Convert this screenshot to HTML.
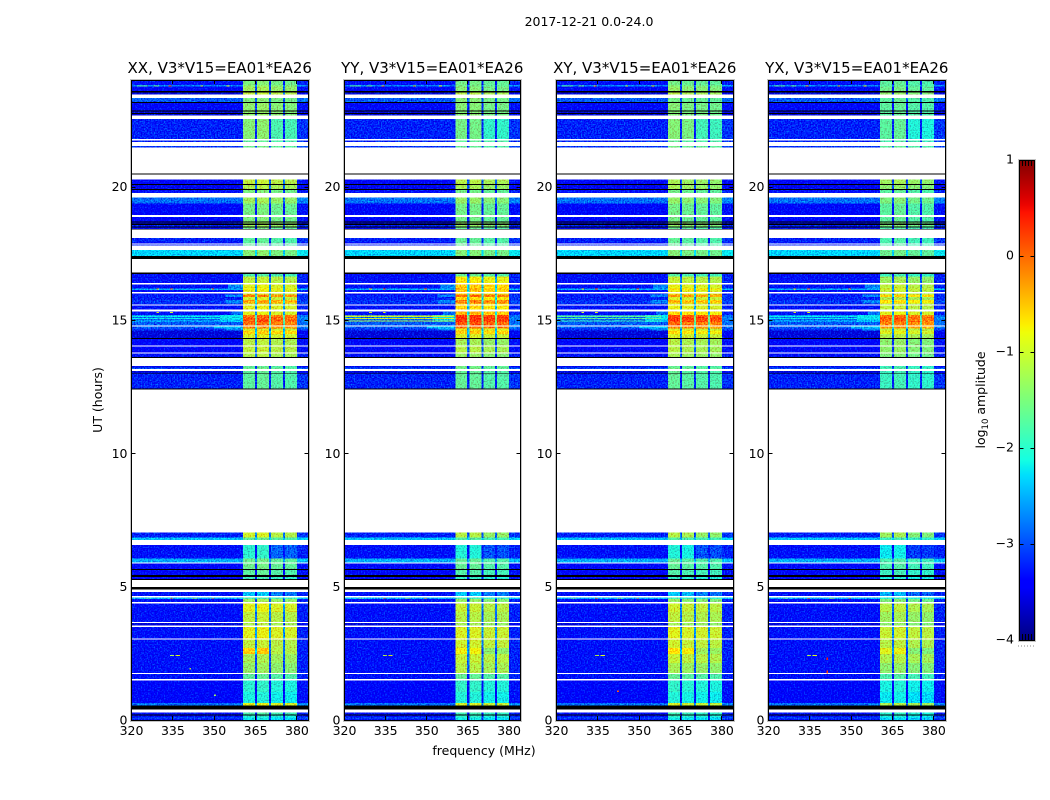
<!DOCTYPE html>
<html>
<head>
<meta charset="utf-8">
<title>2017-12-21 0.0-24.0</title>
<style>
html,body{margin:0;padding:0;background:#fff;width:1050px;height:800px;overflow:hidden}
svg{display:block}
text{font-family:"DejaVu Sans","Liberation Sans",sans-serif;fill:#000}
</style>
</head>
<body>
<svg id="figure" xmlns="http://www.w3.org/2000/svg" width="1050" height="800" viewBox="0 0 1050 800">
  <defs>
    <filter id="speckle" x="0" y="0" width="100%" height="100%" color-interpolation-filters="sRGB">
      <feTurbulence type="fractalNoise" baseFrequency="0.7" numOctaves="1" seed="4" result="t"/>
      <feColorMatrix in="t" type="matrix" values="0 0 0 0 0.523  1 0 0 0 0  0.4 0 0 0 0.323  0 0 0 0 1" result="n"/>
      <feComposite in="SourceGraphic" in2="n" operator="arithmetic" k1="0" k2="1" k3="1.3" k4="-0.68" result="m"/>
      <feComposite in="m" in2="SourceGraphic" operator="in"/>
    </filter>
    <linearGradient id="jet-gradient" x1="0" y1="1" x2="0" y2="0"></linearGradient>
  </defs>
  <text x="589" y="26" font-size="12.5" text-anchor="middle">2017-12-21 0.0-24.0</text>
  <g id="panels"></g>
  <text x="0" y="0" font-size="12.5" text-anchor="middle" transform="translate(102,400) rotate(-90)">UT (hours)</text>
  <text x="484" y="755" font-size="12.5" text-anchor="middle">frequency (MHz)</text>
  <g id="colorbar"></g>
  <text x="0" y="0" font-size="12.5" text-anchor="middle" transform="translate(985,400) rotate(-90)">log<tspan font-size="8.5" dy="3">10</tspan><tspan dy="-3"> amplitude</tspan></text>
</svg>
<script>
// ---------- chart data ----------
const panelTitles = ["XX, V3*V15=EA01*EA26","YY, V3*V15=EA01*EA26","XY, V3*V15=EA01*EA26","YX, V3*V15=EA01*EA26"];
const freqTicks = [320,335,350,365,380];
const hourTicks = [0,5,10,15,20];
const cbarTicks = [1,0,-1,-2,-3,-4];

// channel edges in MHz: background, sub-band, gap, sub-band, gap, sub-band, gap, sub-band, upper edge
const channelEdgesMHz = [320,360.5,364.7,365.5,369.9,370.6,374.9,375.7,380,384];

// top of each time block (hours); the block runs to the next entry
const rowTopHour = [
24.00,23.81,23.75,23.58,23.54,23.46,23.33,23.18,23.14,22.86,22.82,22.76,22.72,22.66,22.53,21.79,21.74,21.67,21.52,21.46,
20.49,20.46,20.27,20.10,20.06,19.91,19.87,19.77,19.60,19.37,18.94,18.86,18.70,18.66,18.61,18.57,18.50,18.46,18.42,18.39,
18.08,17.93,17.86,17.83,17.79,17.62,17.40,17.28,16.78,16.73,16.64,16.38,16.34,16.19,16.13,16.05,16.00,15.95,15.87,15.75,
15.62,15.58,15.55,15.40,15.32,15.19,15.12,15.02,14.92,14.80,14.76,14.68,14.60,14.47,14.32,14.28,14.05,14.01,13.78,13.74,
13.61,13.57,13.27,13.21,13.16,13.08,13.01,12.99,12.43,12.40,7.04,6.85,6.75,6.56,6.06,5.91,5.86,5.66,5.62,5.44,
5.37,5.28,5.25,4.99,4.89,4.80,4.65,4.59,4.54,4.42,4.36,4.05,3.67,3.64,3.54,3.49,3.05,3.01,2.70,2.47,
2.14,1.76,1.72,1.54,1.49,1.05,0.63,0.54,0.40,0.29,0.21,0.16,0.10,0.05];

// log10 amplitude in 320-360 MHz; null = flagged (white), -9 = below range (black)
const rowBackground = [
-3.3,-2.7,-3.4,-9,-3.6,null,-2.9,-9,-3.4,-9,-3.6,-9,-3.6,null,-3.2,null,-3.2,null,-3.1,null,
-9,null,-3.4,-9,-3.5,-9,-3.3,null,-2.8,-3.4,null,-3.4,-9,-3.4,-9,-3.2,-9,-3.4,-9,null,
-3.2,-3.3,null,-3.2,null,-2.3,-9,null,-9,-3.3,-3.3,null,-3.3,-2.5,-3.3,null,-3.3,-3.2,-3.2,-3.1,
-3.2,null,-3.3,null,-3.3,-2.9,-2.8,-2.9,-2.9,null,-2.9,-3.1,-3.6,-3.6,-9,-3.4,null,-3.4,null,-3.3,
-9,null,-3.5,-3.0,null,-3.6,-9,-3.2,-9,null,-3.2,-2.4,null,-3.3,-2.5,null,-3.4,-9,-3.4,-9,
-3.4,-9,null,-9,null,-3.3,null,-2.5,-3.3,null,-3.3,-3.3,null,-3.6,null,-3.3,null,-3.3,-3.3,-3.3,
-3.3,null,-3.3,null,-3.4,-3.4,-2.8,-9,null,-3.3,-9,-3.3,-2.9,-3.3];

// sub-band amplitude per unflagged block, one array per correlation
const bandXX = [
-1.5,-1.4,-1.3,-1.1,-1.5,-1.4,-1.4,-1.4,-1.45,-1.7,
-1.6,-1.1,-1.2,-1.5,-1.3,-1.55,-1.5,-1.3,-1.3,-1.6,
-1.7,-1.7,-1.7,-1.45,-1.8,-1.1,-0.9,-0.8,-0.9,-1.0,
-0.2,-1.0,-0.4,-1.0,-0.9,-0.9,-0.1,0.0,0.05,-0.1,
-0.2,-1.0,-0.6,-0.95,-1.15,-1.1,-1.2,-1.7,-1.6,-1.7,
-1.7,-1.0,-1.7,-2.0,-1.6,-1.6,-1.7,-1.9,-2.4,-1.8,
-1.3,-0.9,-1.1,-1.2,-0.9,-1.1,-0.6,-1.25,-1.35,-1.7,
-2.0,-2.1,-0.9,-1.8,-2.0,-2.2,-2.2];
const bandYY = [
-1.6,-1.6,-1.5,-1.2,-1.5,-1.5,-1.5,-1.5,-1.6,-1.7,
-1.7,-1.2,-1.3,-1.6,-1.4,-1.6,-1.6,-1.4,-1.4,-1.7,
-1.7,-1.7,-1.7,-1.5,-1.7,-0.8,-0.6,-0.5,-0.6,-0.8,
-0.1,-0.7,-0.2,-0.7,-0.7,-0.5,0.15,0.25,0.2,0.0,
-0.1,-0.9,-0.6,-1.0,-1.3,-1.2,-1.4,-1.6,-1.6,-1.7,
-1.7,-1.2,-1.8,-2.1,-1.7,-1.7,-1.8,-2.0,-2.4,-1.9,
-1.4,-1.1,-1.2,-1.3,-1.0,-1.05,-0.85,-1.1,-1.2,-1.7,
-2.0,-2.1,-1.0,-1.9,-2.0,-2.2,-2.2];
const bandXY = [
-1.6,-1.5,-1.4,-1.2,-1.6,-1.5,-1.5,-1.5,-1.5,-1.7,
-1.6,-1.3,-1.3,-1.6,-1.4,-1.6,-1.6,-1.4,-1.4,-1.7,
-1.7,-1.7,-1.7,-1.5,-1.8,-1.1,-0.9,-0.7,-0.9,-0.9,
-0.3,-1.0,-0.5,-1.0,-0.9,-0.7,0.1,0.2,0.15,-0.1,
-0.2,-1.0,-0.7,-1.0,-1.2,-1.2,-1.3,-1.7,-1.6,-1.7,
-1.7,-1.2,-1.8,-2.1,-1.7,-1.7,-1.8,-2.0,-2.4,-1.9,
-1.4,-1.05,-1.15,-1.3,-0.95,-1.05,-0.75,-1.1,-1.3,-1.7,
-2.0,-2.1,-1.0,-1.9,-2.0,-2.2,-2.2];
const bandYX = [
-1.7,-1.7,-1.6,-1.4,-1.7,-1.7,-1.7,-1.7,-1.7,-1.8,
-1.7,-1.3,-1.4,-1.7,-1.5,-1.7,-1.7,-1.5,-1.5,-1.8,
-1.8,-1.8,-1.8,-1.6,-1.9,-1.3,-1.1,-1.0,-1.1,-1.2,
-0.6,-1.2,-0.7,-1.2,-1.1,-0.9,-0.1,0.0,-0.05,-0.2,
-0.3,-1.1,-0.9,-1.2,-1.4,-1.4,-1.5,-1.9,-1.8,-1.9,
-1.9,-1.3,-1.9,-2.2,-1.8,-1.8,-1.9,-2.1,-2.5,-2.0,
-1.5,-1.15,-1.3,-1.4,-1.05,-1.15,-0.9,-1.2,-1.4,-1.8,
-2.1,-2.2,-1.2,-2.0,-2.1,-2.3,-2.3];

// per-correlation level of each of the four sub-bands relative to the block level
const subbandLevelXX = [0,0.05,-0.05,-0.08];
const subbandLevelYY = [0.05,0.05,-0.05,-0.05];
const subbandLevelXY = [0.05,-0.02,-0.05,-0.08];
const subbandLevelYX = [0,0.05,-0.05,-0.08];

// blocks in which the upper two sub-bands are dimmer
const dimUpperHours = [22.53,7.04,6.56,2.70,4.80];
const dimUpperAmount = [0.3,0.1,0.8,0.5,0.3];

// narrowband streaks and hot spots (panel -1 = all panels)
const streakPanel = [-1,-1,-1,-1,-1,-1,-1,-1,-1, 1,1,1,2,2,2,0,0,0,3,3,3,
  -1,-1,-1,-1,-1,-1,-1,-1,-1,-1,-1,-1,-1,-1,-1,-1,2,3,3,0,0];
const streakTop = [16.34,16.19,15.95,15.75,15.19,15.02,14.76,14.68,15.32, 15.16,15.08,14.98,15.16,15.08,14.98,15.16,15.08,14.98,15.16,15.08,14.98,
  23.79,23.79,23.79,23.79,23.79,16.18,16.18,16.18,15.30,15.30,4.58,4.58,4.58,4.58,2.44,2.44,1.10,1.85,2.35,0.95,1.95];
const streakBottom = [16.19,16.13,15.87,15.62,15.02,14.92,14.68,14.60,15.19, 15.12,15.03,14.94,15.12,15.03,14.94,15.12,15.03,14.94,15.12,15.03,14.94,
  23.76,23.76,23.76,23.76,23.76,16.14,16.14,16.14,15.26,15.26,4.55,4.55,4.55,4.55,2.40,2.40,1.05,1.75,2.25,0.90,1.90];
const streakFrom = [355,352,354,354,352,352,350,354,356, 320,320,320,320,320,320,320,320,320,320,320,320,
  333.5,328,354.5,345,322,329,334,349,329,334,334,349,342,325,334,336,342,341,341,350,341];
const streakTo = [360.5,360.5,360.5,360.5,360.5,360.5,360.5,360.5,360.5, 360,360,360,358,358,358,352,352,352,352,352,352,
  334.5,330,355.5,346,326,330,335,350,330,335,335,350,344,327,335.5,337.5,342.6,341.6,341.6,350.6,341.6];
const streakValue = [-2.7,-2.5,-2.7,-2.7,-2.2,-2.4,-2.4,-2.7,-2.8, -1.0,-1.0,-1.2,-1.7,-1.7,-1.9,-2.2,-2.2,-2.3,-2.2,-2.2,-2.3,
  -0.1,-1.6,-0.8,-1.0,-1.7,-0.8,0.1,-0.2,-1.0,-1.0,0.2,0.2,-1.2,-1.6,-1.2,-0.9,0.2,0.2,0.2,-1.3,-1.2];

// ---------- layout & scales ----------
const SVGNS = "http://www.w3.org/2000/svg";
const plotTop = 80, plotBottom = 720;
const panelLefts = [131.5,344.5,556.5,768.5];
const panelWidths = [176.5,175.5,176.5,176.5];
const freqMin = 320, freqMax = 384, hourMin = 0, hourMax = 24, cMin = -4, cMax = 1;
const cbarLeft = 1019.5, cbarRight = 1034.5, cbarTop = 160, cbarBottom = 640;
function xScale(panel, mhz){ return panelLefts[panel] + (mhz-freqMin)/(freqMax-freqMin)*panelWidths[panel]; }
function yScale(hour){ return plotBottom - (hour-hourMin)/(hourMax-hourMin)*(plotBottom-plotTop); }
function cScale(v){ return cbarBottom - (v-cMin)/(cMax-cMin)*(cbarBottom-cbarTop); }
function jetPart(t, pts){
  for(let i=1;i<pts.length;i++){
    if(t<=pts[i][0]){ const a=pts[i-1], b=pts[i]; return a[1]+(b[1]-a[1])*(t-a[0])/(b[0]-a[0]); }
  }
  return pts[pts.length-1][1];
}
function jet(t){
  t=Math.max(0,Math.min(1,t));
  const r=jetPart(t,[[0,0],[0.35,0],[0.66,1],[0.89,1],[1,0.5]]);
  const g=jetPart(t,[[0,0],[0.125,0],[0.375,1],[0.64,1],[0.91,0],[1,0]]);
  const b=jetPart(t,[[0,0.5],[0.11,1],[0.34,1],[0.65,0],[1,0]]);
  return "rgb("+Math.round(r*255)+","+Math.round(g*255)+","+Math.round(b*255)+")";
}
function colorOf(v){ return jet((v-cMin)/(cMax-cMin)); }
function mk(tag, attrs){
  const el=document.createElementNS(SVGNS,tag);
  for(const k in attrs) el.setAttribute(k,attrs[k]);
  return el;
}
function line(parent,x1,y1,x2,y2,color,name){
  const l=mk("line",{x1:x1,y1:y1,x2:x2,y2:y2,stroke:color,"stroke-width":1,"shape-rendering":"crispEdges"});
  
  
  parent.appendChild(l);
}
function frame(parent,x0,y0,x1,y1){
  const outer=mk("rect",{x:x0-1,y:y0-1,width:x1-x0+2,height:y1-y0+2,fill:"none",stroke:"#c4c4c4","stroke-width":1,"shape-rendering":"crispEdges"});
  
  
  parent.appendChild(outer);
  const inner=mk("rect",{x:x0,y:y0,width:x1-x0,height:y1-y0,fill:"none",stroke:"#000","stroke-width":1,"shape-rendering":"crispEdges"});
  
  
  parent.appendChild(inner);
}

// ---------- panels ----------
const bandByPanel = [bandXX,bandYY,bandXY,bandYX];
const levelByPanel = [subbandLevelXX,subbandLevelYY,subbandLevelXY,subbandLevelYX];
const panelsGroup = document.getElementById("panels");

function cell(parent,p,f0,f1,h0,h1,fill){
  const x0=xScale(p,f0), x1=xScale(p,f1), y0=yScale(h0), y1=yScale(h1);
  const r=mk("rect",{x:x0,y:y0,width:x1-x0,height:y1-y0,fill:fill,"shape-rendering":"crispEdges"});
  
  
  parent.appendChild(r);
}

panelTitles.forEach(function(title,p){
  const g=mk("g",{});
  
  
  panelsGroup.appendChild(g);

  const cells=mk("g",{filter:"url(#speckle)"});
  
  
  g.appendChild(cells);
  const black=mk("g",{});
  
  
  g.appendChild(black);

  const bands=bandByPanel[p], level=levelByPanel[p];
  let di=0;
  rowTopHour.forEach(function(top,i){
    const bottom = i+1<rowTopHour.length ? rowTopHour[i+1] : hourMin;
    const bg=rowBackground[i];
    if(bg===null) return;
    if(bg===-9){ cell(black,p,freqMin,freqMax,top,bottom,"#000"); return; }
    const band=bands[di++];
    const di2=dimUpperHours.indexOf(top);
    const dim=di2>=0?dimUpperAmount[di2]:0;
    for(let c=0;c<channelEdgesMHz.length-1;c++){
      let v;
      if(c===0) v=bg;
      else if(c===8) v=bg+0.1;
      else if(c%2===0) v=Math.max(bg,band-1.7-(c>=4?dim:0));
      else { const s=(c-1)/2; v=band+level[s]-(s>=2?dim:0); }
      cell(cells,p,channelEdgesMHz[c],channelEdgesMHz[c+1],top,bottom,colorOf(v));
    }
  });
  streakValue.forEach(function(v,i){
    if(streakPanel[i]!==-1 && streakPanel[i]!==p) return;
    cell(cells,p,streakFrom[i],streakTo[i],streakTop[i],streakBottom[i],colorOf(v));
  });

  const x0=xScale(p,freqMin), x1=xScale(p,freqMax);
  const left=Math.round(x0-0.5)+0.5, right=Math.round(x1-0.5)+0.5;
  frame(g,left,plotTop+0.5,right,plotBottom+0.5);

  freqTicks.forEach(function(f){
    const x=Math.round(xScale(p,f)-0.5)+0.5;
    line(g,x,plotBottom,x,plotBottom-4,"#000","x-tick");
    line(g,x,plotTop,x,plotTop+4,"#000","x-tick");
    const t=mk("text",{x:xScale(p,f),y:plotBottom+15,"font-size":12.5,"text-anchor":"middle"});
    t.textContent=f;
    
    
    g.appendChild(t);
  });
  hourTicks.forEach(function(h){
    const y=Math.round(yScale(h))+0.5;
    line(g,left,y,left+4,y,"#000","y-tick");
    line(g,right,y,right-4,y,"#000","y-tick");
    const t=mk("text",{x:x0-4,y:yScale(h)+4.5,"font-size":12.5,"text-anchor":"end"});
    t.textContent=h;
    
    
    g.appendChild(t);
  });
  const tt=mk("text",{x:x0+panelWidths[p]/2,y:73,"font-size":15,"text-anchor":"middle"});
  tt.textContent=title;
  
  
  g.appendChild(tt);
});

// ---------- colorbar ----------
const grad=document.getElementById("jet-gradient");
for(let i=0;i<=64;i++){
  const s=mk("stop",{offset:(i/64),"stop-color":jet(i/64)});
  grad.appendChild(s);
}
const cb=document.getElementById("colorbar");
const cbRect=mk("rect",{x:cbarLeft,y:cbarTop,width:cbarRight-cbarLeft,height:cbarBottom-cbarTop,fill:"url(#jet-gradient)"});


cb.appendChild(cbRect);
frame(cb,cbarLeft,cbarTop+0.5,cbarRight,cbarBottom+0.5);
cbarTicks.forEach(function(v){
  const y=Math.round(cScale(v))+0.5;
  if(v!==cMin && v!==cMax){
    line(cb,cbarLeft,y,cbarLeft+4,y,"#000","colorbar-tick");
    line(cb,cbarRight,y,cbarRight-4,y,"#000","colorbar-tick");
  }
  const t=mk("text",{x:1014,y:cScale(v)+3.5,"font-size":12.5,"text-anchor":"end"});
  t.textContent=(v<0?"\u2212"+(-v):""+v);
  
  
  cb.appendChild(t);
});
for(let x=cbarLeft+2.5;x<cbarRight;x+=3){
  line(cb,Math.floor(x)+0.5,cbarTop,Math.floor(x)+0.5,cbarTop+6,"#000","colorbar-minor-tick");
  line(cb,Math.floor(x)+0.5,cbarBottom,Math.floor(x)+0.5,cbarBottom-6,"#000","colorbar-minor-tick");
}
for(let x=1018;x<1036;x+=3){
  const d=mk("rect",{x:x,y:645.5,width:1,height:1,fill:"#8a8a8a"});
  
  
  cb.appendChild(d);
}
</script>
</body>
</html>
